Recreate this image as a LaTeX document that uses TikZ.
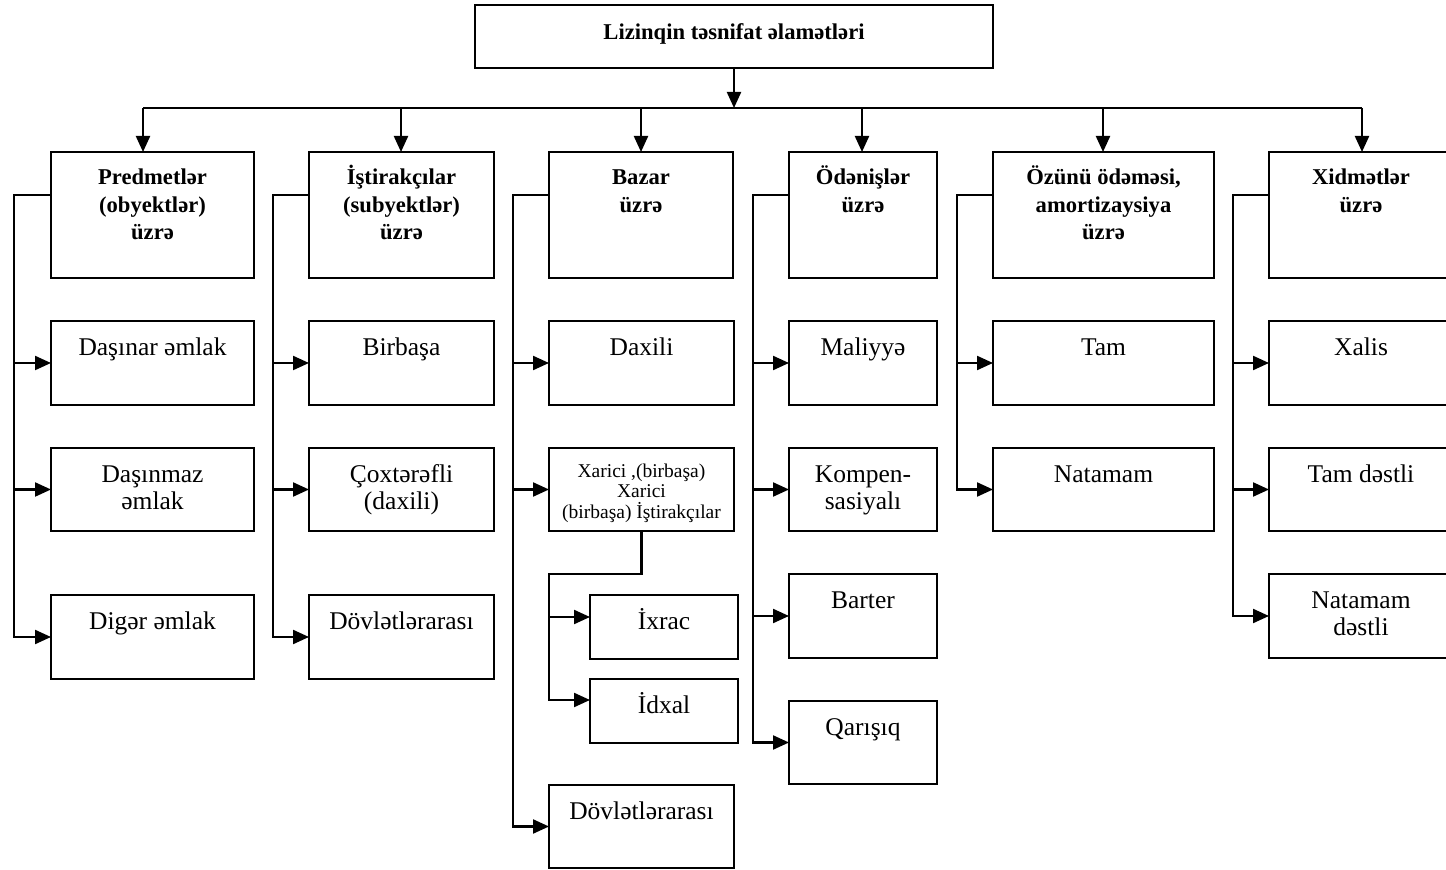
\documentclass[tikz,border=0pt]{standalone}
\usepackage{fontspec}
\setmainfont{Liberation Serif}
\usetikzlibrary{arrows.meta}

% box from pixel corners: name, x1, y1, x2, y2
\newcommand\bx[5]{\node[box, minimum width={(#4-#2)*0.5pt}, minimum height={(#5-#3)*0.5pt}] (#1) at ({(#2+#4)/2},{(#3+#5)/2}) {};}
% fixed-height first-line strut, so accented capitals do not move a line
\newcommand\fl{\rule{0pt}{13pt}}

\tikzset{
  box/.style={draw, line width=1.3pt, rectangle, inner sep=0pt, outer sep=0pt},
  txt/.style={anchor=north, inner sep=0pt, align=center,
    font=\fontsize{12.75}{13.5}\selectfont},
  hd/.style={txt, font=\bfseries\fontsize{11.3}{13.75}\selectfont},
  small/.style={txt, font=\fontsize{9.75}{10.25}\selectfont},
  ln/.style={line width=1.1pt},
  arr/.style={ln, -{Triangle[length=8pt,width=7pt]}},
}

\begin{document}
\begin{tikzpicture}[x=0.5pt, y=-0.5pt]
\useasboundingbox (0,0) rectangle (1446,870);
\clip (0,0) rectangle (1446,870);

% title
\bx{top}{475}{5}{993}{68}
\node[hd] at ([yshift=-4.1pt]top.north) {\fl Lizinqin təsnifat əlamətləri};

% headers
\bx{h1}{51}{152}{254}{278}
\bx{h2}{309}{152}{494}{278}
\bx{h3}{549}{152}{733}{278}
\bx{h4}{789}{152}{937}{278}
\bx{h5}{993}{152}{1214}{278}
\bx{h6}{1269}{152}{1453}{278}
\node[hd] at ([yshift=-3.1pt]h1.north) {\fl Predmetlər\\(obyektlər)\\üzrə};
\node[hd] at ([yshift=-3.1pt]h2.north) {\fl İştirakçılar\\(subyektlər)\\üzrə};
\node[hd] at ([yshift=-3.1pt]h3.north) {\fl Bazar\\üzrə};
\node[hd] at ([yshift=-3.1pt]h4.north) {\fl Ödənişlər\\üzrə};
\node[hd] at ([yshift=-3.1pt]h5.north) {\fl Özünü ödəməsi,\\amortizaysiya\\üzrə};
\node[hd] at ([yshift=-3.1pt]h6.north) {\fl Xidmətlər\\üzrə};

% distribution bar
\coordinate (d1) at (143,108);
\coordinate (d2) at (401,108);
\coordinate (d3) at (641,108);
\coordinate (d4) at (862,108);
\coordinate (d5) at (1103,108);
\coordinate (d6) at (1362,108);
\draw[arr] (top.south) -- (top.south |- d1);
\draw[ln] (d1) -- (d6);
\foreach \i in {1,...,6} \draw[arr] (d\i) -- (d\i |- h\i.north);

% column 1
\bx{c11}{51}{321}{254}{405}
\bx{c12}{51}{448}{254}{531}
\bx{c13}{51}{595}{254}{679}
\node[txt] at ([yshift=-3.95pt]c11.north) {\fl Daşınar əmlak};
\node[txt] at ([yshift=-3.95pt]c12.north) {\fl Daşınmaz\\əmlak};
\node[txt] at ([yshift=-3.95pt]c13.north) {\fl Digər əmlak};

% column 2
\bx{c21}{309}{321}{494}{405}
\bx{c22}{309}{448}{494}{531}
\bx{c23}{309}{595}{494}{679}
\node[txt] at ([yshift=-3.95pt]c21.north) {\fl Birbaşa};
\node[txt] at ([yshift=-3.95pt]c22.north) {\fl Çoxtərəfli\\(daxili)};
\node[txt] at ([yshift=-3.95pt]c23.north) {\fl Dövlətlərarası};

% column 3
\bx{c31}{549}{321}{734}{405}
\bx{c32}{549}{448}{734}{531}
\bx{c33}{590}{595}{738}{659}
\bx{c34}{590}{679}{738}{743}
\bx{c35}{549}{785}{734}{868}
\node[txt] at ([yshift=-3.95pt]c31.north) {\fl Daxili};
\node[small] at ([yshift=-1.5pt]c32.north) {\fl Xarici ,(birbaşa)\\Xarici\\(birbaşa) İştirakçılar};
\node[txt] at ([yshift=-3.95pt]c33.north) {\fl İxrac};
\node[txt] at ([yshift=-3.95pt]c34.north) {\fl İdxal};
\node[txt] at ([yshift=-3.95pt]c35.north) {\fl Dövlətlərarası};

% column 4
\bx{c41}{789}{321}{937}{405}
\bx{c42}{789}{448}{937}{531}
\bx{c43}{789}{574}{937}{658}
\bx{c44}{789}{701}{937}{784}
\node[txt] at ([yshift=-3.95pt]c41.north) {\fl Maliyyə};
\node[txt] at ([yshift=-3.95pt]c42.north) {\fl Kompen-\\sasiyalı};
\node[txt] at ([yshift=-3.95pt]c43.north) {\fl Barter};
\node[txt] at ([yshift=-3.95pt]c44.north) {\fl Qarışıq};

% column 5
\bx{c51}{993}{321}{1214}{405}
\bx{c52}{993}{448}{1214}{531}
\node[txt] at ([yshift=-3.95pt]c51.north) {\fl Tam};
\node[txt] at ([yshift=-3.95pt]c52.north) {\fl Natamam};

% column 6
\bx{c61}{1269}{321}{1453}{405}
\bx{c62}{1269}{448}{1453}{531}
\bx{c63}{1269}{574}{1453}{658}
\node[txt] at ([yshift=-3.95pt]c61.north) {\fl Xalis};
\node[txt] at ([yshift=-3.95pt]c62.north) {\fl Tam dəstli};
\node[txt] at ([yshift=-3.95pt]c63.north) {\fl Natamam\\dəstli};

% side buses
\coordinate (b1) at (14,195);
\coordinate (b2) at (273,195);
\coordinate (b3) at (513,195);
\coordinate (b4) at (753,195);
\coordinate (b5) at (957,195);
\coordinate (b6) at (1233,195);

\draw[arr] (b1 -| h1.west) -- (b1) |- (c13.west);
\draw[arr] (b1 |- c11.west) -- (c11.west);
\draw[arr] (b1 |- c12.west) -- (c12.west);

\draw[arr] (b2 -| h2.west) -- (b2) |- (c23.west);
\draw[arr] (b2 |- c21.west) -- (c21.west);
\draw[arr] (b2 |- c22.west) -- (c22.west);

\draw[arr] (b3 -| h3.west) -- (b3) |- (c35.west);
\draw[arr] (b3 |- c31.west) -- (c31.west);
\draw[arr] (b3 |- c32.west) -- (c32.west);

\draw[arr] (b4 -| h4.west) -- (b4) |- (c44.west);
\draw[arr] (b4 |- c41.west) -- (c41.west);
\draw[arr] (b4 |- c42.west) -- (c42.west);
\draw[arr] (b4 |- c43.west) -- (c43.west);

\draw[arr] (b5 -| h5.west) -- (b5) |- (c52.west);
\draw[arr] (b5 |- c51.west) -- (c51.west);

\draw[arr] (b6 -| h6.west) -- (b6) |- (c63.west);
\draw[arr] (b6 |- c61.west) -- (c61.west);
\draw[arr] (b6 |- c62.west) -- (c62.west);

% foreign-market branch
\coordinate (s3) at (549,574);
\coordinate (e33) at ([yshift=5pt]c33.west);
\coordinate (e34) at ([yshift=5.5pt]c34.west);
\draw[arr] (c32.south) |- (s3) |- (e34);
\draw[arr] (s3 |- e33) -- (e33);
\end{tikzpicture}
\end{document}
